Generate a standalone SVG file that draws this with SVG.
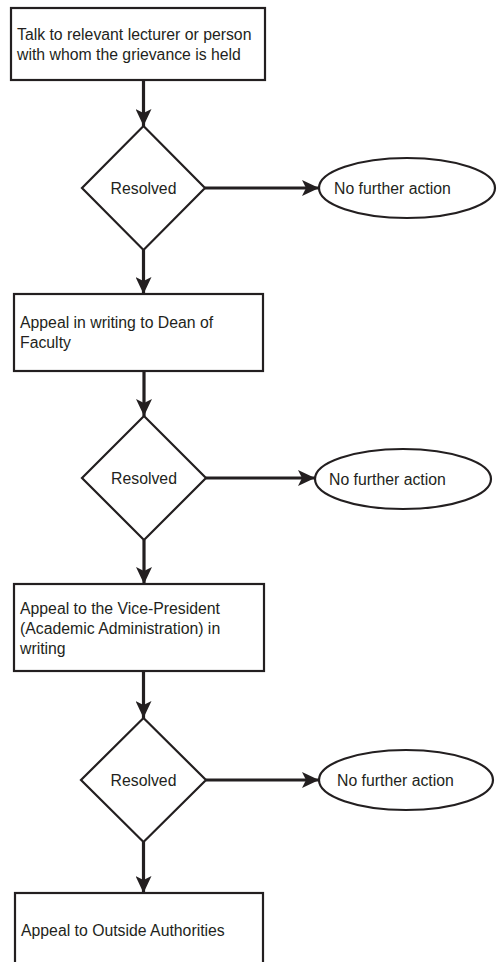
<svg xmlns="http://www.w3.org/2000/svg" width="498" height="962" viewBox="0 0 498 962">
<style>
.shape{fill:#fff;stroke:#231f20;stroke-width:2.2}
.conn{stroke:#231f20;stroke-width:3.2;fill:none}
text{font-family:"Liberation Sans",Arial,sans-serif;font-size:15.8px;fill:#231f20}
</style>
<defs>
<marker id="ah" markerUnits="userSpaceOnUse" markerWidth="18" markerHeight="16" viewBox="0 0 18 16" refX="17" refY="8" orient="auto">
<path d="M0,0 L17,8 L0,16 L4,8 Z" fill="#231f20"/>
</marker>
</defs>
<g id="connectors">
<line class="conn" x1="143.5" y1="80" x2="143.5" y2="126" marker-end="url(#ah)"/>
<line class="conn" x1="205" y1="188" x2="319" y2="188" marker-end="url(#ah)"/>
<line class="conn" x1="143.5" y1="250" x2="143.5" y2="294" marker-end="url(#ah)"/>
<line class="conn" x1="144" y1="371" x2="144" y2="416" marker-end="url(#ah)"/>
<line class="conn" x1="206" y1="478" x2="315" y2="478" marker-end="url(#ah)"/>
<line class="conn" x1="144" y1="540" x2="144" y2="584" marker-end="url(#ah)"/>
<line class="conn" x1="143.5" y1="671" x2="143.5" y2="718" marker-end="url(#ah)"/>
<line class="conn" x1="206" y1="780" x2="319" y2="780" marker-end="url(#ah)"/>
<line class="conn" x1="143.5" y1="842" x2="143.5" y2="893" marker-end="url(#ah)"/>
</g>
<g id="box1">
<rect class="shape" x="11" y="8" width="254" height="72"/>
<text x="17" y="40">Talk to relevant lecturer or person</text>
<text x="17" y="60">with whom the grievance is held</text>
</g>
<g id="dec1">
<polygon class="shape" points="143.5,126 205,188 143.5,250 82,188"/>
<text x="143.5" y="194" text-anchor="middle">Resolved</text>
</g>
<g id="end1">
<ellipse class="shape" cx="407" cy="188" rx="88" ry="30"/>
<text x="334" y="194">No further action</text>
</g>
<g id="box2">
<rect class="shape" x="14" y="294" width="249" height="77"/>
<text x="20" y="328">Appeal in writing to Dean of</text>
<text x="20" y="348">Faculty</text>
</g>
<g id="dec2">
<polygon class="shape" points="144,416 206,478 144,540 82,478"/>
<text x="144" y="484" text-anchor="middle">Resolved</text>
</g>
<g id="end2">
<ellipse class="shape" cx="403" cy="479" rx="88" ry="30"/>
<text x="329" y="485">No further action</text>
</g>
<g id="box3">
<rect class="shape" x="14" y="584" width="250" height="87"/>
<text x="20" y="614">Appeal to the Vice-President</text>
<text x="20" y="634">(Academic Administration) in</text>
<text x="20" y="654">writing</text>
</g>
<g id="dec3">
<polygon class="shape" points="143.5,718 206,780 143.5,842 81,780"/>
<text x="143.5" y="786" text-anchor="middle">Resolved</text>
</g>
<g id="end3">
<ellipse class="shape" cx="406" cy="780" rx="87" ry="30"/>
<text x="337" y="786">No further action</text>
</g>
<g id="box4">
<rect class="shape" x="15" y="893" width="248" height="80"/>
<text x="21" y="936">Appeal to Outside Authorities</text>
</g>
</svg>
